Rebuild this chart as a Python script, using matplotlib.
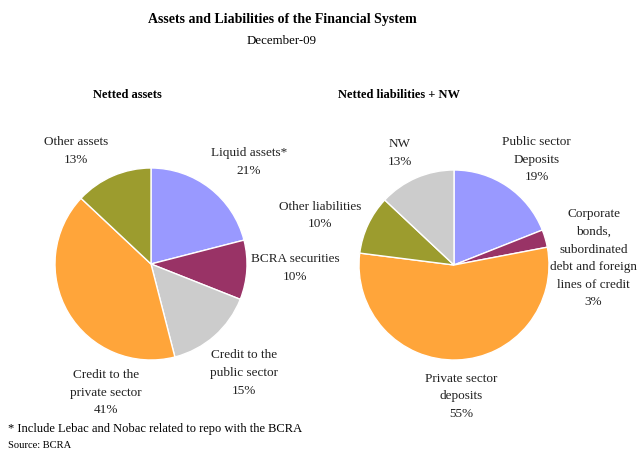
import matplotlib.pyplot as plt

plt.rcParams['font.family'] = ['Liberation Serif', 'DejaVu Serif']

# Netted assets (% of total)
asset_names = ["Liquid assets*", "BCRA securities", "Credit to the\npublic sector",
               "Credit to the\nprivate sector", "Other assets"]
asset_values = [21, 10, 15, 41, 13]

# Netted liabilities + net worth (% of total)
liab_names = ["Public sector\nDeposits",
              "Corporate\nbonds,\nsubordinated\ndebt and foreign\nlines of credit",
              "Private sector\ndeposits", "Other liabilities", "NW"]
liab_values = [19, 3, 55, 10, 13]

colors = ["#9999FF", "#993366", "#CCCCCC", "#FFA53A", "#9C9C2E"]
liab_colors = ["#9999FF", "#993366", "#FFA53A", "#9C9C2E", "#CCCCCC"]

# label positions in units of the pie radius
asset_label_pos = [(1.02, 1.07), (1.50, -0.03), (0.97, -1.125), (-0.47, -1.33), (-0.78, 1.19)]
liab_label_pos = [(0.87, 1.12), (1.47, 0.08), (0.08, -1.37), (-1.41, 0.53), (-0.57, 1.19)]

W, H = 639, 452
fig = plt.figure(figsize=(W / 100, H / 100), dpi=100)


def pie_axes(cx, cy, r):
    return fig.add_axes([(cx - r) / W, 1 - (cy + r) / H, 2 * r / W, 2 * r / H])


def draw_pie(ax, values, names, cols, label_pos):
    ax.pie(values, colors=cols, startangle=90, counterclock=False, radius=1,
           wedgeprops=dict(edgecolor="white", linewidth=1))
    ax.set_xlim(-1, 1)
    ax.set_ylim(-1, 1)
    ax.set_aspect("equal")
    ax.axis("off")
    for (x, y), name, v in zip(label_pos, names, values):
        ax.text(x, y, f"{name}\n{v}%", ha="center", va="center", fontsize=9.5,
                linespacing=1.62, color="#222222")


ax1 = pie_axes(151, 265, 96)
draw_pie(ax1, asset_values, asset_names, colors, asset_label_pos)
ax2 = pie_axes(454, 266, 95)
draw_pie(ax2, liab_values, liab_names, liab_colors, liab_label_pos)

fig.text(282 / W, 1 - 20 / H, "Assets and Liabilities of the Financial System",
         ha="center", va="center", fontsize=10, fontweight="bold")
fig.text(282 / W, 1 - 41 / H, "December-09", ha="center", va="center", fontsize=9.3)
fig.text(127 / W, 1 - 95 / H, "Netted assets", ha="center", va="center",
         fontsize=9, fontweight="bold")
fig.text(399 / W, 1 - 95 / H, "Netted liabilities + NW", ha="center", va="center",
         fontsize=9, fontweight="bold")

fig.text(8 / W, 1 - 429 / H, "* Include Lebac and Nobac related to repo with the BCRA",
         ha="left", va="center", fontsize=9)
fig.text(8 / W, 1 - 446 / H, "Source: BCRA", ha="left", va="center", fontsize=7.6)

fig.savefig("out.png", dpi=100)
